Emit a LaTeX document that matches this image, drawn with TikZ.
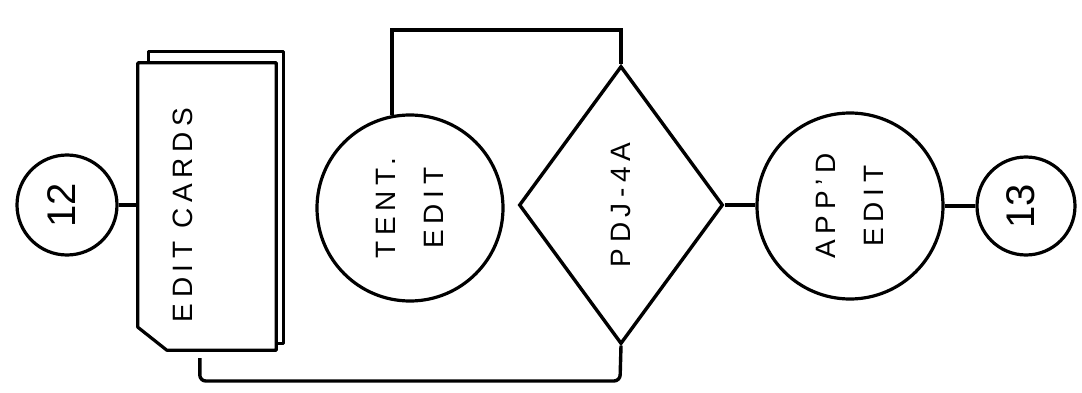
\documentclass[tikz,border=0pt]{standalone}
\usepackage{fontspec}
\setmainfont{Liberation Sans}
\usetikzlibrary{shapes.geometric,calc}
\newcommand{\handfont}{\fontsize{28}{48}\selectfont\addfontfeatures{LetterSpace=20}}
\newcommand{\uptext}[1]{\rotatebox{90}{\begin{tabular}{@{}c@{}}#1\end{tabular}}}

\begin{document}
\begin{tikzpicture}[x=1pt,y=-1pt,
  every node/.style={inner sep=0pt},
  link/.style={line width=3.4pt},
  onpage/.style={circle,draw,line width=3.2pt,minimum size=100pt,
             font=\fontsize{40}{40}\selectfont},
  proc/.style={circle,draw,line width=3.2pt,minimum size=186pt,font=\handfont},
  dec/.style={diamond,draw,line width=3.4pt,minimum width=204pt,
             minimum height=278pt,font=\handfont},
  cardbox/.style={rectangle,minimum width=138pt,minimum height=287pt},
  cardedge/.style={line width=3.2pt,line join=round}
]
\useasboundingbox (0,0) rectangle (1082,393);

% ---- NODES ----
\node[onpage] (c12)  at (67,205)    {\uptext{12}};
\node[cardbox] (card) at (207,206.5) {};
\node[font=\handfont] (cardlbl) at (183,215) {\uptext{EDIT CARDS}};
\node[proc]   (tent) at (410,208)   {\uptext{TENT.\\EDIT}};
\node[dec]    (pdj)  at (621,205)   {\uptext{PDJ-4A}};
\node[proc]   (appd) at (850,206)   {\uptext{APP'D\\EDIT}};
\node[onpage,minimum size=98pt] (c13) at (1026,206) {\uptext{13}};

% ---- CARD DECK ----
\draw[cardedge] (card.north west) -- (card.north east) -- (card.south east)
  -- ($(card.south west)+(29,0)$) -- ($(card.south west)+(0,-23)$) -- cycle;
\draw[cardedge] ($(card.north west)+(11,0)$) -- ($(card.north west)+(11,-11)$)
  -- ($(card.north east)+(7,-11)$) -- ($(card.south east)+(7,-7)$)
  -- ($(card.south east)+(0,-7)$);

% ---- CONNECTIONS ----
\coordinate (looptop) at (621,30);
\coordinate (loopbot) at (620,381);
\draw[link] (c12.east) -- (c12.east -| card.west);
\draw[link] (tent.101) |- (looptop) -- (pdj.north);
\draw[link,rounded corners=6pt,shorten <=8pt] ($(card.south west)+(62,0)$)
  |- (loopbot) -- (pdj.south);
\draw[link] (pdj.east) -- (pdj.east -| appd.west);
\draw[link] (appd.east) -- (c13.west);

\end{tikzpicture}
\end{document}
